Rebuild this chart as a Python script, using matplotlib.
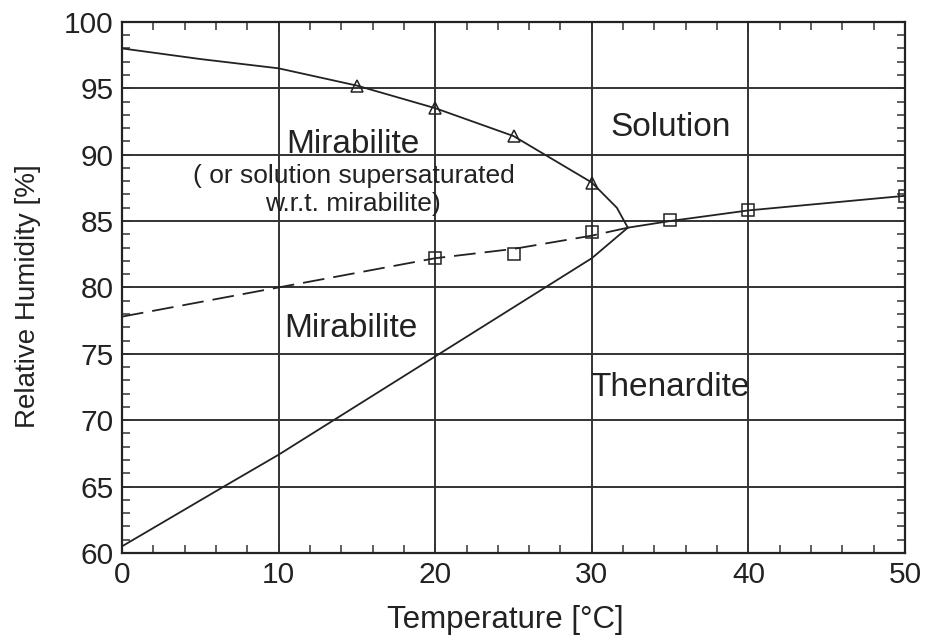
import matplotlib
matplotlib.use("Agg")
import matplotlib.pyplot as plt
from matplotlib.ticker import MultipleLocator

plt.rcParams['font.family'] = ['Liberation Sans', 'DejaVu Sans']

# Mirabilite / solution boundary (upper curve)
upper_T = [0, 5, 10, 15, 20, 25, 30, 31.6, 32.3]
upper_RH = [98.0, 97.2, 96.5, 95.2, 93.5, 91.4, 87.9, 86.0, 84.5]
# Triangle data points
tri_T = [15, 20, 25, 30]
tri_RH = [95.2, 93.5, 91.4, 87.9]

# Thenardite / mirabilite boundary (lower curve)
lower_T = [0, 6.5, 10, 15, 20, 25, 30, 32.3]
lower_RH = [60.5, 65.0, 67.4, 71.1, 74.8, 78.5, 82.2, 84.5]

# Thenardite solubility (metastable, dashed below transition)
dash_T = [0, 10, 20, 25, 30, 32.3]
dash_RH = [77.8, 80.0, 82.2, 82.9, 83.9, 84.5]
solid_T = [32.3, 35, 40, 50]
solid_RH = [84.5, 85.0, 85.8, 86.9]
# Square data points
sq_T = [20, 25, 30, 35, 40, 50]
sq_RH = [82.2, 82.5, 84.2, 85.1, 85.8, 86.9]

fig = plt.figure(figsize=(9.27, 6.43), dpi=100)
ax = fig.add_axes([0.1316, 0.140, 0.8447, 0.8260])

lc = '#222222'
ax.plot(upper_T, upper_RH, color=lc, lw=1.3)
ax.plot(lower_T, lower_RH, color=lc, lw=1.3)
ax.plot(dash_T, dash_RH, color=lc, lw=1.3, dashes=(12, 5))
ax.plot(solid_T, solid_RH, color=lc, lw=1.3)
ax.plot(tri_T, tri_RH, ls='none', marker='^', ms=9, mfc='none', mec=lc, mew=1.1)
ax.plot(sq_T, sq_RH, ls='none', marker='s', ms=9, mfc='none', mec=lc, mew=1.1)

ax.set_xlim(0, 50)
ax.set_ylim(60, 100)
ax.xaxis.set_major_locator(MultipleLocator(10))
ax.xaxis.set_minor_locator(MultipleLocator(2))
ax.yaxis.set_major_locator(MultipleLocator(5))
ax.yaxis.set_minor_locator(MultipleLocator(1))
ax.grid(True, which='major', color='#333333', lw=1.4)
ax.tick_params(which='both', direction='in', top=True, right=True, color='#333333')
ax.tick_params(which='major', length=7, width=1.4, labelsize=21.5, pad=6,
               labelcolor='#222222')
ax.tick_params(which='minor', length=6, width=1.1)
for s in ax.spines.values():
    s.set_linewidth(1.6)
    s.set_color('#222222')

ax.set_xlabel('Temperature [°C]', fontsize=22.5, color='#222222')
ax.xaxis.label.set_va('baseline')
ax.xaxis.set_label_coords(0.490, -0.1412)
ax.set_ylabel('Relative Humidity [%]', fontsize=20, color='#222222')
ax.yaxis.label.set_va('baseline')
ax.yaxis.set_label_coords(-0.111, 0.484)

tc = '#222222'
ax.text(14.76, 90.12, 'Mirabilite', fontsize=24, ha='center', va='baseline', color=tc)
ax.text(14.79, 87.84, '( or solution supersaturated', fontsize=19, ha='center', va='baseline', color=tc)
ax.text(14.76, 85.78, 'w.r.t. mirabilite)', fontsize=19, ha='center', va='baseline', color=tc)
ax.text(35.02, 91.40, 'Solution', fontsize=24, ha='center', va='baseline', color=tc)
ax.text(14.63, 76.27, 'Mirabilite', fontsize=24, ha='center', va='baseline', color=tc)
ax.text(35.0, 71.82, 'Thenardite', fontsize=24, ha='center', va='baseline', color=tc)

fig.savefig('out.png', dpi=100)
